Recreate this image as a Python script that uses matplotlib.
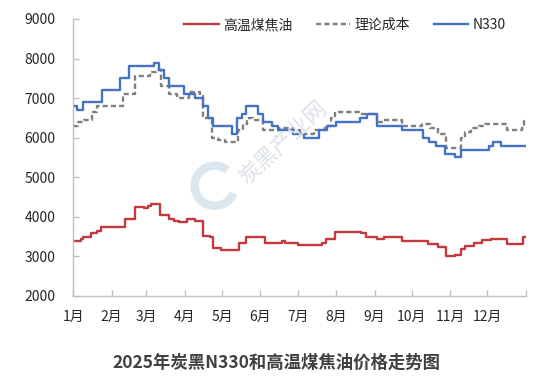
import matplotlib
matplotlib.use("Agg")
import matplotlib.pyplot as plt
from matplotlib.patches import Arc

plt.rcParams['font.family'] = ['Noto Sans CJK SC', 'DejaVu Sans']

# ---- data (day offset from 2025-01-01, price) ----
n330_days = [0, 3, 8, 23, 38, 45, 65, 69, 73, 77, 89, 98, 105, 109, 113, 128, 132, 136, 139,
             149, 153, 160, 165, 177, 186, 198, 205, 212, 231, 237, 245, 265, 282, 287, 293,
             300, 308, 313, 335, 339, 345, 365]
n330_vals = [6800, 6700, 6900, 7200, 7500, 7800, 7900, 7700, 7500, 7300, 7100, 7000, 6800, 6500,
             6300, 6100, 6500, 6600, 6800, 6600, 6400, 6300, 6200, 6100, 6000, 6200, 6300, 6400,
             6500, 6600, 6300, 6200, 6000, 5900, 5800, 5600, 5500, 5700, 5800, 5900, 5800, 5800]

cost_days = [0, 4, 9, 15, 19, 40, 50, 62, 67, 71, 77, 84, 93, 102, 105, 112, 117, 122, 133,
             137, 140, 145, 153, 167, 177, 183, 194, 203, 208, 211, 233, 245, 250, 265, 281,
             288, 294, 301, 313, 316, 321, 327, 332, 350, 362, 364, 365]
cost_vals = [6300, 6400, 6450, 6650, 6800, 7100, 7550, 7650, 7700, 7300, 7100, 7000, 7150, 7050,
             6500, 6000, 5950, 5900, 6200, 6350, 6500, 6450, 6200, 6250, 6200, 6100, 6200, 6300,
             6500, 6650, 6600, 6400, 6450, 6300, 6350, 6250, 6100, 5750, 6000, 6150, 6250, 6300,
             6350, 6200, 6250, 6420, 6420]

tar_days = [0, 6, 8, 14, 19, 22, 42, 50, 57, 60, 63, 70, 77, 81, 85, 92, 98, 105, 110, 113,
            119, 125, 134, 139, 152, 155, 168, 171, 181, 201, 204, 211, 232, 236, 245, 251,
            265, 286, 294, 301, 308, 313, 316, 323, 330, 337, 350, 363, 365]
tar_vals = [3400, 3450, 3500, 3600, 3650, 3750, 3950, 4250, 4220, 4270, 4320, 4050, 3950, 3900,
            3880, 3950, 3900, 3520, 3480, 3200, 3170, 3150, 3330, 3500, 3480, 3330, 3380, 3350,
            3290, 3330, 3450, 3620, 3600, 3500, 3440, 3480, 3400, 3310, 3250, 3000, 3030, 3190,
            3270, 3340, 3410, 3440, 3310, 3480, 3480]

month_starts = [0, 31, 59, 90, 120, 151, 181, 212, 243, 273, 304, 334, 365]
month_labels = ['1月', '2月', '3月', '4月', '5月', '6月', '7月', '8月', '9月', '10月', '11月', '12月', '']
series_names = ['高温煤焦油', '理论成本', 'N330']
title = '2025年炭黑N330和高温煤焦油价格走势图'

fig = plt.figure(figsize=(5.37, 3.83), dpi=100)
ax = fig.add_axes([0.1365, 0.2272, 0.8425, 0.7232])

ax.plot(tar_days, tar_vals, color='#C4393D', lw=1.7, drawstyle='steps-post', label=series_names[0])
ax.plot(cost_days, cost_vals, color='#7F7F7F', lw=1.7, ls=(0, (2.2, 1.3)), drawstyle='steps-post',
        label=series_names[1])
ax.plot(n330_days, n330_vals, color='#4472C4', lw=1.7, drawstyle='steps-post', label=series_names[2])

ax.set_xlim(0, 365)
ax.set_ylim(2000, 9000)
ax.set_yticks(range(2000, 9001, 1000))
ax.set_xticks(month_starts)
ax.set_xticklabels(month_labels)

for s in ['top', 'right']:
    ax.spines[s].set_visible(False)
for s in ['left', 'bottom']:
    ax.spines[s].set_color('#BFBFBF')
    ax.spines[s].set_linewidth(1.0)
ax.tick_params(axis='both', direction='in', length=4, width=1, color='#BFBFBF',
               labelsize=10, labelcolor='#262626')
ax.tick_params(axis='y', pad=13)
ax.tick_params(axis='x', pad=10)

leg = ax.legend(loc='center', bbox_to_anchor=(0.60, 0.978), ncol=3, frameon=False,
                fontsize=10, handlelength=2.5, handletextpad=0.3, columnspacing=1.7,
                borderaxespad=0)
for t in leg.get_texts():
    t.set_color('#262626')

# watermark
fig.text(0.527, 0.628, '炭黑产业网', rotation=43, fontsize=16, color='#DDE2E8',
         ha='center', va='center', zorder=0)
arc = Arc((0.40, 0.515), 0.075, 0.105, angle=0, theta1=60, theta2=330,
          transform=fig.transFigure, color='#DCE6EE', lw=6, zorder=0)
fig.patches.append(arc)

fig.text(0.515, 0.052, title, ha='center', va='center', fontsize=12.5, fontweight='bold',
         color='#404040')

fig.savefig('out.png', dpi=100)
